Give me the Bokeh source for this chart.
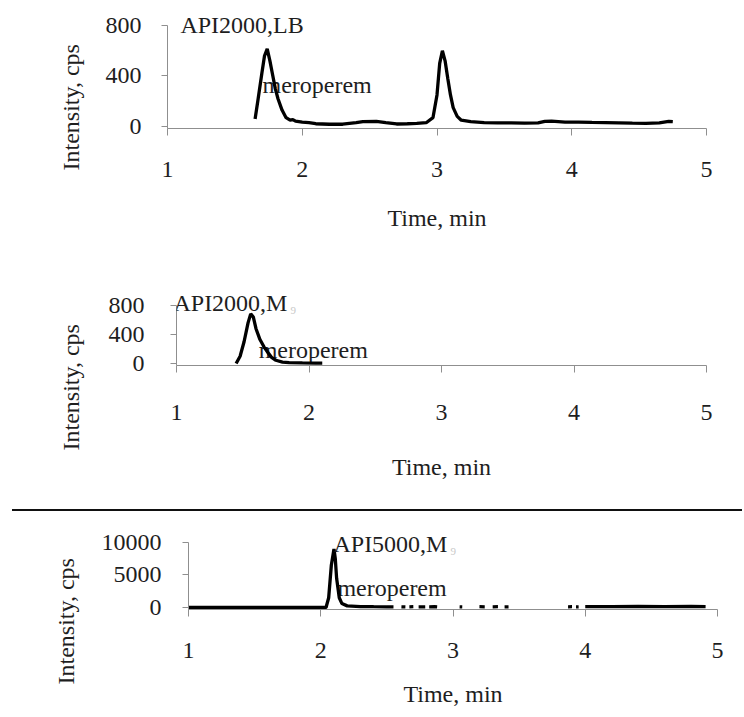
from bokeh.plotting import figure
from bokeh.layouts import column
from bokeh.models import Range1d, FixedTicker, Label, Div, ColumnDataSource, Title
from bokeh.core.properties import value
from bokeh.embed import file_html
from bokeh.resources import INLINE
import numpy as np

nan = np.nan

# ---------------- data ----------------
x_ticks = [1, 2, 3, 4, 5]

# Panel 1: API2000, LB
lb_time = [1.65, 1.67, 1.70, 1.72, 1.74, 1.76, 1.78, 1.80, 1.82, 1.85, 1.88, 1.91, 1.93, 1.95,
           2.00, 2.05, 2.10, 2.20, 2.30, 2.40, 2.45, 2.55, 2.62, 2.70, 2.78, 2.85, 2.92, 2.97,
           3.00, 3.02, 3.04, 3.06, 3.08, 3.10, 3.12, 3.15, 3.18, 3.25, 3.35, 3.45, 3.55, 3.65,
           3.75, 3.80, 3.85, 3.95, 4.05, 4.15, 4.25, 4.35, 4.45, 4.55, 4.65, 4.72, 4.75]
lb_int = [60, 200, 420, 560, 615, 520, 410, 300, 220, 130, 70, 50, 55, 42,
          35, 30, 22, 18, 18, 30, 38, 40, 30, 20, 22, 25, 30, 70,
          250, 500, 600, 520, 380, 250, 150, 80, 50, 38, 30, 28, 28, 26,
          28, 40, 42, 35, 35, 32, 30, 28, 26, 25, 28, 40, 38]
lb_ticks = [0, 400, 800]

# Panel 2: API2000, M9
m9a_time = [1.45, 1.48, 1.51, 1.54, 1.56, 1.58, 1.60, 1.63, 1.66, 1.69, 1.72, 1.75, 1.80, 1.85, 1.95, 2.05, 2.10]
m9a_int = [0, 100, 300, 560, 685, 640, 480, 330, 230, 150, 80, 45, 20, 12, 8, 5, 5]
m9a_ticks = [0, 400, 800]

# Panel 3: API5000, M9
m9b_time = [1.00, 2.04, 2.06, 2.08, 2.10, 2.11, 2.12, 2.14, 2.16, 2.20, 2.30, 2.40, 2.50, 2.55,
            2.56, 2.61, 2.64, 2.66, 2.67, 2.70, 2.73, 2.74, 2.79, 2.81, 2.82, 2.86, 2.88, 2.89,
            3.05, 3.07, 3.08, 3.20, 3.24, 3.25, 3.30, 3.34, 3.35, 3.39, 3.42, 3.43, 3.87, 3.90,
            3.91, 3.93, 3.95, 3.96, 4.00, 4.20, 4.40, 4.60, 4.80, 4.91]
m9b_int = [0, 0, 1500, 6500, 9000, 7500, 4500, 1500, 600, 250, 150, 120, 100, 90,
           nan, 110, 90, nan, 100, 120, nan, 100, 110, nan, 110, 120, 90, nan,
           110, 100, nan, 120, 100, nan, 110, 120, nan, 100, 110, nan, 110, 120,
           nan, 100, 110, nan, 130, 140, 150, 140, 150, 130]
m9b_ticks = [0, 5000, 10000]

panel_titles = ["API2000,LB", "API2000,M", "API5000,M"]
compound = "meroperem"
x_title = "Time, min"
y_title = "Intensity, cps"

FONT = "Liberation Serif"
AX = "#8f8f8f"
TXT = "#1e1e1e"
FS = "24px"


def make_panel(t, v, ticks, height, left, fw, top, fh, y_lo, y_hi, ylab_stand,
               xlab_stand, xlab_axstand, title, title_xy, sub, comp_xy, yt_stand, yt_offset):
    p = figure(width=744, height=height, output_backend="svg", toolbar_location=None,
               x_range=Range1d(1, 5), y_range=Range1d(y_lo, y_hi),
               min_border_left=left, min_border_right=744 - left - fw,
               min_border_top=top, min_border_bottom=height - top - fh)
    p.frame_align = False
    p.outline_line_color = None
    p.grid.visible = False
    p.background_fill_color = "white"
    p.border_fill_color = "white"

    for ax in (p.xaxis[0], p.yaxis[0]):
        ax.axis_line_color = AX
        ax.major_tick_line_color = AX
        ax.minor_tick_line_color = None
        ax.major_tick_in = 0
        ax.major_label_text_font = FONT
        ax.major_label_text_font_size = FS
        ax.major_label_text_color = TXT
        ax.axis_label_text_font = FONT
        ax.axis_label_text_font_size = FS
        ax.axis_label_text_font_style = "normal"
        ax.axis_label_text_color = TXT

    p.xaxis.ticker = FixedTicker(ticks=x_ticks)
    p.xaxis.bounds = (1, 5)
    p.xaxis.major_tick_out = 7
    p.xaxis.major_label_standoff = xlab_stand
    p.xaxis.axis_label = x_title
    p.xaxis.axis_label_standoff = xlab_axstand

    p.yaxis.ticker = FixedTicker(ticks=ticks)
    p.yaxis.bounds = (y_lo, ticks[-1])
    p.yaxis.major_tick_out = 6
    p.yaxis.major_label_standoff = ylab_stand

    # y-axis title as a left-side Title, starting below the frame bottom as in the original
    p.add_layout(Title(text=y_title, align="left", offset=yt_offset, standoff=yt_stand,
                       text_font=FONT, text_font_size=FS, text_font_style="normal",
                       text_color=TXT), "left")

    # compound name under the trace
    src = ColumnDataSource(dict(x=[comp_xy[0]], y=[comp_xy[1]], text=[compound]))
    p.text(x="x", y="y", text="text", source=src, text_font=value(FONT),
           text_font_size=FS, text_color=TXT, text_baseline="middle", text_align="left")

    p.line(t, v, line_color="black", line_width=3.3)

    p.add_layout(Label(x=title_xy[0], y=title_xy[1], text=title, text_font=FONT,
                       text_font_size=FS, text_color=TXT, text_baseline="middle"))
    if sub:
        p.add_layout(Label(x=title_xy[0], y=title_xy[1], text="9", x_offset=117, y_offset=-8,
                           text_font=FONT, text_font_size="11px", text_color="#c8c8c8",
                           text_baseline="middle"))
    return p


# panel 1: x 1->167px, 5->706px ; y 0->126px, 800->25px
p1 = make_panel(lb_time, lb_int, lb_ticks, 240, 167, 539, 15, 113, -15.8, 879,
                20, 26, 25, panel_titles[0], (1.096, 800), False, (1.705, 325), 37, -42)
# panel 2: x 1->176px, 5->706px ; y 0->363px, 800->305px
p2 = make_panel(m9a_time, m9a_int, m9a_ticks, 269, 176, 530, 50, 75, -27.6, 1007,
                26, 32, 31, panel_titles[1], (0.977, 841), True, (1.62, 180), 43, -85)
# panel 3: x 1->188px, 5->717px ; y 0->607px, 10000->542px
p3 = make_panel(m9b_time, m9b_int, m9b_ticks, 205, 188, 529, 14, 84, -307.7, 12615,
                21, 26, 20, panel_titles[2], (2.096, 9800), True, (2.126, 3000), 39, -75)

divider = Div(text="", width=730, height=2, margin=(0, 0, 0, 12),
              styles={"background-color": "#111111"})

layout = column(p1, p2, divider, p3, spacing=0)

open("out.html", "w").write(file_html(layout, INLINE))
